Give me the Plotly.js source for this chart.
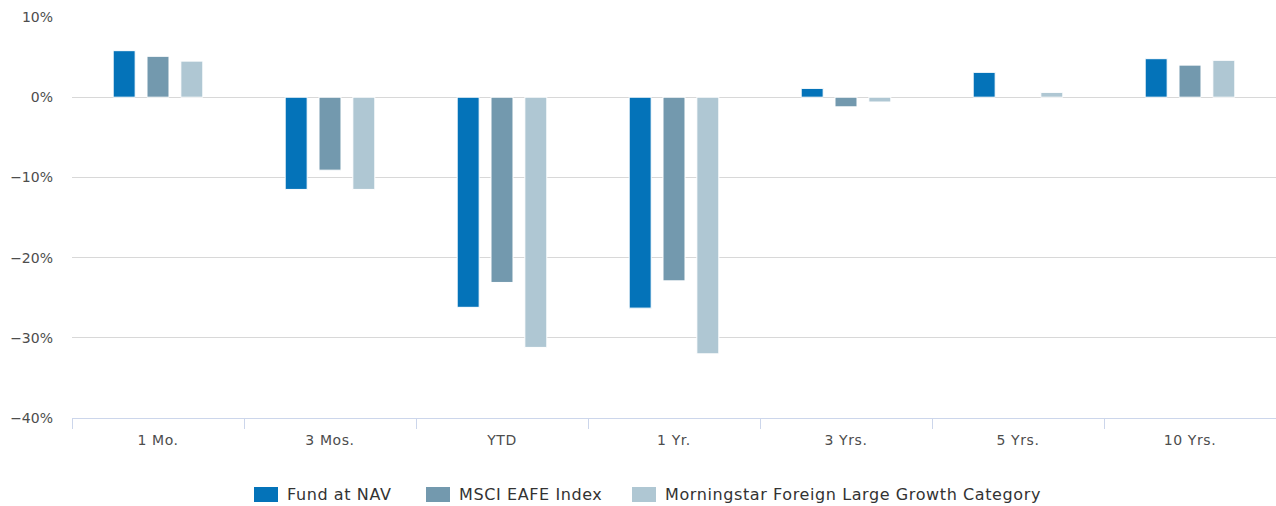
<!DOCTYPE html>
<html><head><meta charset="utf-8">
<script src="https://cdn.plot.ly/plotly-3.0.1.min.js"></script>
<style>
html,body{margin:0;padding:0;background:#fff}#c{width:1276px;height:506px}
.annotation-text{letter-spacing:0.6px}
.xtick text{letter-spacing:0.6px}
</style>
</head><body><div id="c"></div>
<script>
const categories = ["1 Mo.", "3 Mos.", "YTD", "1 Yr.", "3 Yrs.", "5 Yrs.", "10 Yrs."];
const fundNAV = [5.8, -11.5, -26.2, -26.3, 1.1, 3.1, 4.8];
const msciEAFE = [5.1, -9.1, -23.1, -22.9, -1.2, null, 4.0];
const morningstar = [4.5, -11.5, -31.2, -32.0, -0.6, 0.6, 4.6];
const seriesNames = ["Fund at NAV", "MSCI EAFE Index", "Morningstar Foreign Large Growth Category"];
const colors = ["#0473b9", "#7399ae", "#afc7d3"];

const font = "DejaVu Sans, Verdana, sans-serif";
const W = 1276, H = 506, M = {l: 72, r: 0, t: 17, b: 88};
const pw = W - M.l - M.r, ph = H - M.t - M.b;
const px2x = p => (p - M.l) / pw;
const py2y = p => (H - M.b - p) / ph;

const traces = [fundNAV, msciEAFE, morningstar].map((vals, i) => ({
  type: "bar", x: categories, y: vals, name: seriesNames[i],
  marker: {color: colors[i], line: {color: "#ffffff", width: 1}},
  hoverinfo: "skip", showlegend: false
}));

// custom legend (swatch + label), laid out horizontally
const legendBoxX = [254, 426, 632];
const shapes = [], annotations = [];
seriesNames.forEach((n, i) => {
  shapes.push({type: "rect", xref: "paper", yref: "paper",
    x0: px2x(legendBoxX[i]), x1: px2x(legendBoxX[i] + 24),
    y0: py2y(502), y1: py2y(487), fillcolor: colors[i], line: {width: 0}});
  annotations.push({xref: "paper", yref: "paper", x: px2x(legendBoxX[i] + 31),
    y: py2y(494.5), xanchor: "left", yanchor: "middle", showarrow: false,
    text: n, font: {family: font, size: 16, color: "#333"}});
});

Plotly.newPlot("c", traces, {
  width: W, height: H,
  margin: {l: M.l, r: M.r, t: M.t, b: M.b, autoexpand: false},
  paper_bgcolor: "#fff", plot_bgcolor: "#fff",
  barmode: "group", bargap: 0.41, bargroupgap: 0.35,
  font: {family: font, color: "#333", size: 14},
  xaxis: {
    type: "category", showgrid: false, showline: true, linecolor: "#ccd6eb", linewidth: 1,
    ticks: "outside", tickson: "boundaries", ticklen: 10, tickcolor: "#ccd6eb",
    tickfont: {size: 14, color: "#4d4d4d"}, ticklabelstandoff: 9, zeroline: false,
    automargin: false, fixedrange: true
  },
  yaxis: {
    range: [-40, 10], dtick: 10, ticksuffix: "%", showgrid: true, gridcolor: "#d8d8d8",
    zeroline: true, zerolinecolor: "#d8d8d8", zerolinewidth: 1, showline: false,
    tickfont: {size: 14, color: "#4d4d4d"}, ticklabelstandoff: 18, automargin: false, fixedrange: true
  },
  showlegend: false,
  shapes: shapes, annotations: annotations
}, {displayModeBar: false, staticPlot: true});
</script></body></html>
